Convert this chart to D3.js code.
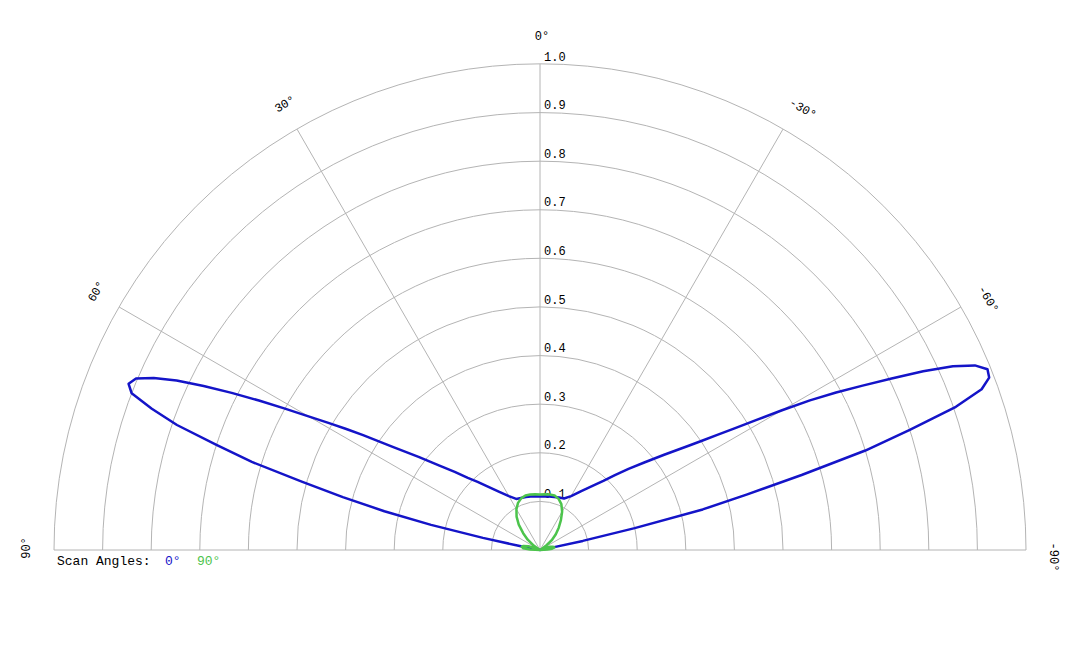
<!DOCTYPE html>
<html>
<head>
<meta charset="utf-8">
<script src="https://cdn.jsdelivr.net/npm/d3@7"></script>
<style>
  body { margin: 0; background: #fff; }
  svg { display: block; }
  text { font-family: "Courier New", "Liberation Mono", monospace; }
</style>
</head>
<body>
<div id="chart"></div>
<script>
// angles in degrees, positive = left of 0°
const blueAngles = [90, 85, 80, 79, 78, 77, 76, 75, 74, 73, 72, 71, 70, 69, 68, 67, 66, 65, 64, 63, 62, 61, 60,
  59, 58, 57, 56, 55, 52.5, 50, 47.5, 45, 42.5, 40, 35, 30, 25, 20, 15, 10, 5, 0,
  -5, -10, -15, -20, -25, -30, -35, -40, -42.5, -45, -47.5, -50, -52.5, -55, -56, -57, -58, -59,
  -60, -61, -62, -63, -64, -65, -66, -67, -68, -69, -70, -71, -72, -73, -74, -75, -76, -77, -78, -79, -80, -85, -90];
const blueValues = [0, 0, 0.005, 0.04, 0.12, 0.23, 0.33, 0.42, 0.51, 0.62, 0.70, 0.79, 0.85, 0.90, 0.913, 0.903, 0.87, 0.825, 0.77, 0.712, 0.655, 0.60, 0.55,
  0.508, 0.47, 0.434, 0.40, 0.37, 0.315, 0.27, 0.238, 0.21, 0.19, 0.172, 0.146, 0.128, 0.116, 0.114, 0.113, 0.112, 0.111, 0.110,
  0.111, 0.112, 0.113, 0.115, 0.117, 0.128, 0.148, 0.175, 0.193, 0.218, 0.247, 0.28, 0.322, 0.375, 0.402, 0.435, 0.472, 0.52,
  0.575, 0.635, 0.69, 0.745, 0.805, 0.87, 0.93, 0.972, 0.993, 0.99, 0.967, 0.905, 0.80, 0.70, 0.56, 0.44, 0.345, 0.20, 0.09, 0.02, 0.005, 0, 0];

const greenAngles = [90, 87, 84, 80, 76, 72, 68, 64, 60, 55, 50, 45, 40, 35, 30, 25, 20, 15, 10, 5, 0,
  -5, -10, -15, -20, -25, -30, -35, -40, -45, -50, -55, -60, -64, -68, -72, -76, -80, -84, -87, -90];
const greenValues = [0, 0.02, 0.035, 0.038, 0.035, 0.025, 0.012, 0.004, 0.002, 0.015, 0.033, 0.049, 0.068, 0.084, 0.097, 0.107, 0.113, 0.116, 0.116, 0.115, 0.114,
  0.115, 0.116, 0.116, 0.112, 0.104, 0.091, 0.075, 0.06, 0.046, 0.032, 0.014, 0.003, 0.003, 0.012, 0.022, 0.028, 0.03, 0.025, 0.015, 0];

const ringTicks = [0.1, 0.2, 0.3, 0.4, 0.5, 0.6, 0.7, 0.8, 0.9, 1.0];
const angleTicks = [90, 60, 30, 0, -30, -60, -90];

const width = 1080, height = 648;
const cx = 540, cy = 550, radius = 486;

const svg = d3.select("#chart").append("svg")
  .attr("width", width)
  .attr("height", height);

const r = d3.scaleLinear().domain([0, 1]).range([0, radius]);
const a = d3.scaleLinear().domain([-90, 90]).range([Math.PI / 2, -Math.PI / 2]);

const g = svg.append("g").attr("transform", "translate(" + cx + "," + cy + ")");

// rings
g.selectAll("path.ring")
  .data(ringTicks)
  .enter().append("path")
  .attr("class", "ring")
  .attr("d", function(d) {
    const p = d3.path();
    p.arc(0, 0, r(d), Math.PI, 2 * Math.PI);
    return p.toString();
  })
  .attr("fill", "none")
  .attr("stroke", "#b4b4b4")
  .attr("stroke-width", 1);

// spokes
g.selectAll("line.spoke")
  .data(angleTicks)
  .enter().append("line")
  .attr("class", "spoke")
  .attr("x1", 0).attr("y1", 0)
  .attr("x2", d => radius * Math.sin(a(d)))
  .attr("y2", d => -radius * Math.cos(a(d)))
  .attr("stroke", "#b4b4b4")
  .attr("stroke-width", 1);

// ring labels
g.selectAll("text.rlab")
  .data(ringTicks)
  .enter().append("text")
  .attr("class", "rlab")
  .attr("x", 4)
  .attr("y", d => -r(d) - 3.5)
  .attr("font-size", 12)
  .attr("fill", "#000")
  .text(d3.format(".1f"));

// angle labels
const labR = 510;
g.selectAll("text.alab")
  .data(angleTicks)
  .enter().append("text")
  .attr("class", "alab")
  .attr("transform", d => "translate(" + (labR * Math.sin(a(d))) + "," + (-labR * Math.cos(a(d))) + ") rotate(" + (-d) + ")")
  .attr("dx", d => d < 0 ? 7 : 2)
  .attr("text-anchor", "middle")
  .attr("font-size", 12)
  .attr("fill", "#000")
  .text(d => d + "°");

// curves
const line = d3.lineRadial()
  .angle(d => a(d[0]))
  .radius(d => r(d[1]))
  .curve(d3.curveLinear);

g.append("path")
  .datum(d3.zip(blueAngles, blueValues))
  .attr("d", line)
  .attr("fill", "none")
  .attr("stroke", "#1414c8")
  .attr("stroke-width", 2.5)
  .attr("stroke-linejoin", "round");

g.append("path")
  .datum(d3.zip(greenAngles, greenValues))
  .attr("d", line)
  .attr("fill", "none")
  .attr("stroke", "#4cc44c")
  .attr("stroke-width", 2.5)
  .attr("stroke-linejoin", "round");

// legend
const legend = svg.append("text")
  .attr("y", 565)
  .attr("font-size", 13);
legend.append("tspan").attr("x", 57).attr("fill", "#000").text("Scan Angles:");
legend.append("tspan").attr("x", 165).attr("fill", "#1414c8").text("0°");
legend.append("tspan").attr("x", 197).attr("fill", "#4cc44c").text("90°");
</script>
</body>
</html>
